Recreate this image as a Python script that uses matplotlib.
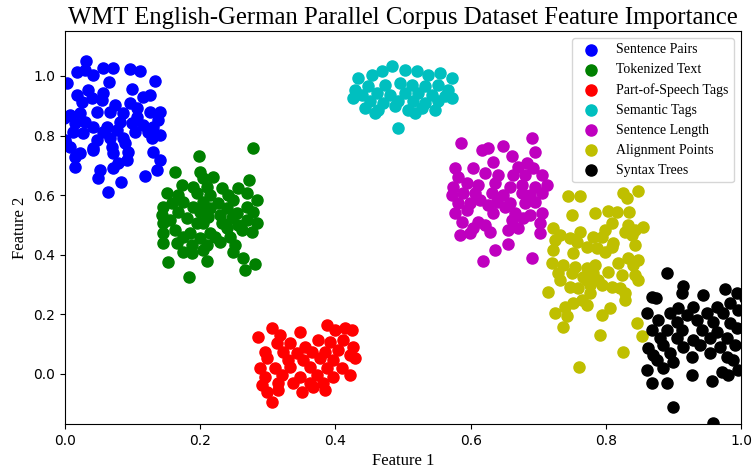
import matplotlib
matplotlib.use("Agg")
import matplotlib.pyplot as plt

LABELS = ["Sentence Pairs", "Tokenized Text", "Part-of-Speech Tags", "Semantic Tags",
          "Sentence Length", "Alignment Points", "Syntax Trees"]
COLORS = ["b", "g", "r", "c", "m", "y", "k"]

sentence_pairs_x = [0.031, 0.018, 0.030, 0.041, 0.056, 0.071, 0.096, 0.111, 0.003, 0.065,
                    0.133, 0.018, 0.034, 0.056, 0.099, 0.115, 0.126, 0.025, 0.040, 0.055,
                    0.074, 0.096, 0.107, 0.047, 0.067, 0.086, 0.126, 0.141, 0.007, 0.022,
                    0.107, 0.138, 0.015, 0.030, 0.041, 0.062, 0.081, 0.099, 0.115, 0.130,
                    0.012, 0.027, 0.056, 0.077, 0.104, 0.123, 0.141, 0.000, 0.047, 0.067,
                    0.086, 0.129, 0.007, 0.041, 0.070, 0.089, 0.015, 0.041, 0.071, 0.093,
                    0.130, 0.022, 0.092, 0.141, 0.015, 0.078, 0.071, 0.052, 0.136, 0.118,
                    0.049, 0.083, 0.064, -0.002, 0.002]
sentence_pairs_y = [1.050, 1.013, 1.020, 1.003, 1.027, 1.027, 1.023, 1.017, 0.977, 0.980,
                    0.983, 0.936, 0.953, 0.943, 0.956, 0.930, 0.936, 0.913, 0.926, 0.919,
                    0.903, 0.909, 0.893, 0.879, 0.879, 0.876, 0.879, 0.879, 0.869, 0.876,
                    0.862, 0.852, 0.842, 0.846, 0.829, 0.829, 0.846, 0.842, 0.836, 0.829,
                    0.812, 0.809, 0.812, 0.819, 0.812, 0.812, 0.802, 0.785, 0.785, 0.792,
                    0.792, 0.792, 0.762, 0.758, 0.762, 0.775, 0.728, 0.752, 0.742, 0.745,
                    0.745, 0.742, 0.718, 0.718, 0.695, 0.708, 0.691, 0.685, 0.685, 0.664,
                    0.658, 0.644, 0.611, 0.860, 0.770]

tokenized_text_x = [0.198, 0.278, 0.163, 0.200, 0.219, 0.272, 0.204, 0.173, 0.189, 0.210,
                    0.232, 0.256, 0.151, 0.167, 0.195, 0.214, 0.241, 0.269, 0.158, 0.175,
                    0.204, 0.226, 0.249, 0.284, 0.145, 0.189, 0.214, 0.240, 0.269, 0.167,
                    0.200, 0.229, 0.254, 0.278, 0.143, 0.155, 0.180, 0.212, 0.247, 0.269,
                    0.145, 0.195, 0.204, 0.232, 0.256, 0.284, 0.163, 0.185, 0.214, 0.240,
                    0.262, 0.277, 0.145, 0.175, 0.200, 0.222, 0.244, 0.145, 0.166, 0.188,
                    0.210, 0.229, 0.251, 0.175, 0.204, 0.188, 0.249, 0.152, 0.210, 0.263,
                    0.281, 0.266, 0.183]
tokenized_text_y = [0.732, 0.758, 0.678, 0.678, 0.661, 0.651, 0.658, 0.634, 0.628, 0.628,
                    0.624, 0.624, 0.607, 0.601, 0.607, 0.601, 0.601, 0.607, 0.574, 0.577,
                    0.577, 0.574, 0.584, 0.584, 0.560, 0.560, 0.557, 0.557, 0.560, 0.544,
                    0.544, 0.534, 0.540, 0.544, 0.534, 0.517, 0.523, 0.527, 0.523, 0.517,
                    0.507, 0.507, 0.507, 0.507, 0.500, 0.507, 0.483, 0.473, 0.473, 0.490,
                    0.483, 0.477, 0.473, 0.460, 0.456, 0.460, 0.460, 0.440, 0.440, 0.433,
                    0.433, 0.443, 0.433, 0.409, 0.416, 0.406, 0.409, 0.376, 0.379, 0.389,
                    0.369, 0.349, 0.326]

pos_tags_x = [0.286, 0.306, 0.318, 0.348, 0.388, 0.399, 0.414, 0.425, 0.296, 0.314,
              0.333, 0.355, 0.374, 0.392, 0.411, 0.426, 0.322, 0.343, 0.365, 0.385,
              0.404, 0.422, 0.299, 0.330, 0.352, 0.377, 0.396, 0.429, 0.288, 0.311,
              0.333, 0.362, 0.388, 0.410, 0.422, 0.296, 0.321, 0.348, 0.373, 0.396,
              0.291, 0.315, 0.337, 0.362, 0.382, 0.299, 0.315, 0.351, 0.367, 0.385,
              0.306]
pos_tags_y = [0.124, 0.154, 0.131, 0.141, 0.164, 0.148, 0.154, 0.148, 0.074, 0.104,
              0.104, 0.091, 0.114, 0.107, 0.114, 0.091, 0.074, 0.070, 0.074, 0.074,
              0.081, 0.064, 0.054, 0.047, 0.047, 0.054, 0.047, 0.054, 0.020, 0.020,
              0.023, 0.023, 0.020, 0.020, -0.003, -0.010, -0.003, -0.010, -0.003, -0.010,
              -0.037, -0.030, -0.030, -0.030, -0.030, -0.060, -0.054, -0.060, -0.044, -0.054,
              -0.094]

semantic_tags_x = [0.433, 0.454, 0.469, 0.484, 0.503, 0.521, 0.537, 0.555, 0.572, 0.429,
                   0.448, 0.473, 0.496, 0.513, 0.533, 0.552, 0.567, 0.439, 0.462, 0.481,
                   0.503, 0.522, 0.543, 0.562, 0.426, 0.451, 0.470, 0.493, 0.515, 0.533,
                   0.552, 0.572, 0.444, 0.463, 0.488, 0.507, 0.528, 0.547, 0.459, 0.518,
                   0.493]
semantic_tags_y = [0.993, 1.003, 1.017, 1.034, 1.020, 1.017, 1.003, 1.010, 0.993, 0.953,
                   0.966, 0.970, 0.977, 0.970, 0.966, 0.970, 0.953, 0.936, 0.943, 0.936,
                   0.943, 0.943, 0.936, 0.933, 0.926, 0.916, 0.909, 0.916, 0.916, 0.909,
                   0.916, 0.926, 0.893, 0.886, 0.899, 0.886, 0.893, 0.886, 0.876, 0.876,
                   0.826]

sentence_length_x = [0.586, 0.691, 0.617, 0.626, 0.648, 0.695, 0.661, 0.577, 0.604, 0.633,
                     0.670, 0.683, 0.692, 0.581, 0.621, 0.641, 0.663, 0.680, 0.706, 0.574,
                     0.595, 0.611, 0.636, 0.658, 0.676, 0.695, 0.713, 0.572, 0.589, 0.607,
                     0.632, 0.648, 0.676, 0.688, 0.706, 0.581, 0.599, 0.614, 0.639, 0.658,
                     0.680, 0.695, 0.577, 0.595, 0.626, 0.651, 0.633, 0.666, 0.688, 0.706,
                     0.587, 0.611, 0.661, 0.678, 0.703, 0.604, 0.621, 0.655, 0.670, 0.584,
                     0.599, 0.629, 0.703, 0.655, 0.636, 0.691, 0.618]
sentence_length_y = [0.775, 0.792, 0.752, 0.758, 0.765, 0.745, 0.732, 0.691, 0.691, 0.711,
                     0.695, 0.708, 0.691, 0.661, 0.674, 0.668, 0.668, 0.668, 0.668, 0.628,
                     0.641, 0.634, 0.641, 0.628, 0.634, 0.628, 0.634, 0.601, 0.607, 0.607,
                     0.607, 0.601, 0.607, 0.601, 0.607, 0.574, 0.574, 0.584, 0.577, 0.574,
                     0.574, 0.577, 0.540, 0.550, 0.567, 0.560, 0.540, 0.540, 0.534, 0.540,
                     0.510, 0.510, 0.517, 0.523, 0.507, 0.490, 0.500, 0.483, 0.490, 0.466,
                     0.473, 0.477, 0.473, 0.436, 0.416, 0.389, 0.379]

alignment_points_x = [0.744, 0.762, 0.825, 0.831, 0.848, 0.750, 0.784, 0.803, 0.817, 0.834,
                      0.809, 0.833, 0.855, 0.722, 0.762, 0.799, 0.828, 0.843, 0.732, 0.747,
                      0.781, 0.794, 0.811, 0.839, 0.725, 0.757, 0.772, 0.787, 0.809, 0.843,
                      0.722, 0.751, 0.799, 0.833, 0.848, 0.720, 0.737, 0.754, 0.772, 0.784,
                      0.818, 0.840, 0.729, 0.750, 0.766, 0.781, 0.803, 0.824, 0.843, 0.732,
                      0.772, 0.788, 0.848, 0.714, 0.747, 0.759, 0.777, 0.794, 0.809, 0.821,
                      0.828, 0.777, 0.765, 0.751, 0.772, 0.828, 0.740, 0.806, 0.725, 0.743,
                      0.794, 0.846, 0.737, 0.854, 0.791, 0.825, 0.760]
alignment_points_y = [0.597, 0.597, 0.607, 0.591, 0.614, 0.534, 0.540, 0.547, 0.544, 0.544,
                      0.507, 0.500, 0.493, 0.490, 0.477, 0.483, 0.477, 0.483, 0.466, 0.456,
                      0.460, 0.460, 0.440, 0.466, 0.450, 0.443, 0.426, 0.423, 0.426, 0.433,
                      0.416, 0.406, 0.409, 0.389, 0.383, 0.372, 0.366, 0.359, 0.356, 0.366,
                      0.372, 0.366, 0.339, 0.339, 0.326, 0.339, 0.342, 0.332, 0.332, 0.315,
                      0.315, 0.315, 0.315, 0.275, 0.292, 0.289, 0.299, 0.299, 0.292, 0.289,
                      0.272, 0.272, 0.248, 0.238, 0.232, 0.248, 0.225, 0.221, 0.205, 0.195,
                      0.198, 0.171, 0.158, 0.128, 0.131, 0.074, 0.023]

syntax_trees_x = [0.891, 0.914, 0.913, 0.944, 0.976, 0.994, 0.868, 0.874, 0.907, 0.929,
                  0.964, 0.984, 0.861, 0.895, 0.920, 0.950, 0.973, 0.996, 0.877, 0.905,
                  0.935, 0.959, 0.984, 0.868, 0.891, 0.913, 0.942, 0.964, 0.994, 0.880,
                  0.905, 0.929, 0.954, 0.979, 0.862, 0.885, 0.914, 0.939, 0.969, 0.991,
                  0.870, 0.895, 0.928, 0.954, 0.979, 0.876, 0.899, 0.988, 0.861, 0.885,
                  0.972, 0.981, 0.996, 0.868, 0.891, 0.928, 0.957, 0.899, 0.959, 1.006,
                  1.008]
syntax_trees_y = [0.339, 0.295, 0.272, 0.265, 0.285, 0.272, 0.258, 0.255, 0.221, 0.225,
                  0.225, 0.238, 0.205, 0.205, 0.198, 0.205, 0.205, 0.215, 0.181, 0.174,
                  0.181, 0.174, 0.171, 0.148, 0.148, 0.148, 0.148, 0.141, 0.154, 0.121,
                  0.121, 0.114, 0.121, 0.121, 0.087, 0.097, 0.091, 0.097, 0.091, 0.097,
                  0.064, 0.070, 0.057, 0.070, 0.057, 0.047, 0.040, 0.047, 0.013, 0.020,
                  0.007, -0.003, 0.013, -0.030, -0.030, -0.003, -0.023, -0.111, -0.164, 0.255,
                  0.080]

series_x = [sentence_pairs_x, tokenized_text_x, pos_tags_x, semantic_tags_x,
            sentence_length_x, alignment_points_x, syntax_trees_x]
series_y = [sentence_pairs_y, tokenized_text_y, pos_tags_y, semantic_tags_y,
            sentence_length_y, alignment_points_y, syntax_trees_y]

SERIF = ["Liberation Serif", "DejaVu Serif"]

fig = plt.figure(figsize=(7.53, 4.69), dpi=100)
ax = fig.add_axes([0.0863, 0.096, 0.898, 0.838])
for xs, ys, color, label in zip(series_x, series_y, COLORS, LABELS):
    ax.scatter(xs, ys, s=64, c=color, label=label)

ax.set_xlim(0, 1)
ax.set_ylim(-0.168, 1.151)
ax.set_title("WMT English-German Parallel Corpus Dataset Feature Importance",
             fontfamily=SERIF, fontsize=17.8, pad=5)
ax.set_xlabel("Feature 1", fontfamily=SERIF, fontsize=12)
ax.set_ylabel("Feature 2", fontfamily=SERIF, fontsize=12)
ax.legend(loc="upper right", prop={"family": SERIF, "size": 10})

fig.savefig("out.png", dpi=100)
